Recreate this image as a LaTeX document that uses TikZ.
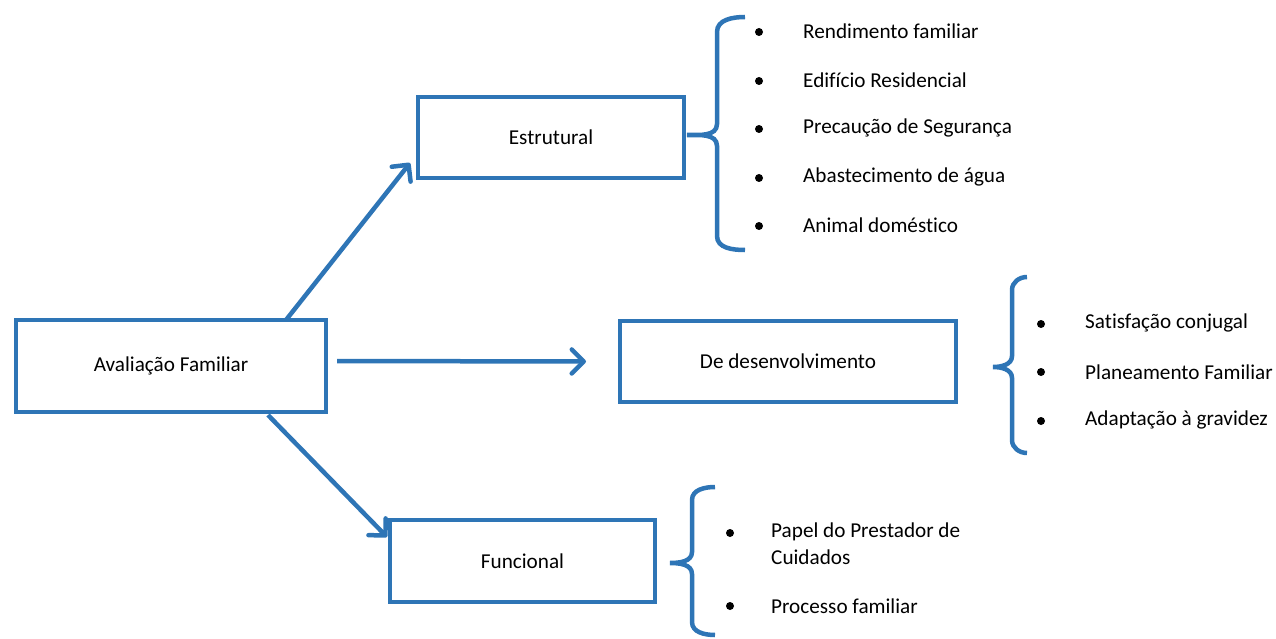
\documentclass[tikz,border=0pt]{standalone}
\usepackage{fontspec}
\setmainfont{Carlito}[Ligatures=NoCommon]
\usetikzlibrary{arrows.meta,calc}
\definecolor{obl}{RGB}{46,117,182}
\begin{document}
\begin{tikzpicture}[x=1pt,y=-1pt,
  box/.style={draw=obl,line width=4pt,inner sep=0pt,align=center},
  conn/.style={draw=obl,line width=4.5pt,-{Straight Barb[length=12pt,width=24pt,round]}},
  brace/.style={draw=obl,line width=4.5pt},
  item/.style={anchor=west,inner sep=0pt},
  dot/.style={circle,fill=black,inner sep=0pt,minimum size=8pt},
  every node/.style={font=\fontsize{21.2}{25}\selectfont}]
\useasboundingbox (0,0) rectangle (1276,639);
\node[box,minimum width=310pt,minimum height=92pt] (ava) at (171,366) {Avaliação Familiar};
\node[box,minimum width=266pt,minimum height=81pt] (est) at (551,137.5) {Estrutural};
\node[box,minimum width=336pt,minimum height=81pt] (dev) at (788,361.5) {De desenvolvimento};
\node[box,minimum width=265pt,minimum height=82pt] (fun) at (522.5,561) {Funcional};
\draw[conn] ($(ava.north east)+(-42,2)$) -- ($(est.south west)+(-6,-17)$);
\draw[conn] ($(ava.east)+(9,-5)$) -- ($(dev.west)+(-32,0)$);
\draw[conn] ($(ava.south east)+(-60,1)$) -- ($(fun.north west)+(-1,19)$);
% braces
\draw[brace] (745,17) to[out=180,in=90] (717,32) -- (717,124) to[out=-90,in=0] (687,135)
  to[out=0,in=90] (717,146) -- (717,236) to[out=-90,in=180] (745,250);
\draw[brace] (1027,277) to[out=180,in=90] (1012,290) -- (1012,356) to[out=-90,in=0] (993,367)
  to[out=0,in=90] (1012,378) -- (1012,440) to[out=-90,in=180] (1027,453);
\draw[brace] (715,487) to[out=180,in=90] (692,500) -- (692,552) to[out=-90,in=0] (670,563)
  to[out=0,in=90] (692,574) -- (692,622) to[out=-90,in=180] (715,635);
% Estrutural items
\node[dot] (d1) at (759,32) {};
\node[item] (t1) at (803,31) {Rendimento familiar};
\node[dot] (d2) at (759,81) {};
\node[item] (t2) at (803,80) {Edifício Residencial};
\node[dot] (d3) at (759,129) {};
\node[item] (t3) at (803,128) {Precaução de Segurança};
\node[dot] (d4) at (759,178) {};
\node[item] (t4) at (803,177) {Abastecimento de água};
\node[dot] (d5) at (759,226) {};
\node[item] (t5) at (803,225) {Animal doméstico};
% Desenvolvimento items
\node[dot] (e1) at (1041,324) {};
\node[item] (u1) at (1085,323) {Satisfação conjugal};
\node[dot] (e2) at (1041,372) {};
\node[item] (u2) at (1085,372) {Planeamento Familiar};
\node[dot] (e3) at (1041,421) {};
\node[item] (u3) at (1085,420) {Adaptação à gravidez};
% Funcional items
\node[dot] (f1) at (730,533) {};
\node[item] (v1) at (771,532) {Papel do Prestador de};
\node[item] (v1b) at (771,557) {Cuidados};
\node[dot] (f2) at (730,606) {};
\node[item] (v2) at (771,606) {Processo familiar};
\end{tikzpicture}
\end{document}
